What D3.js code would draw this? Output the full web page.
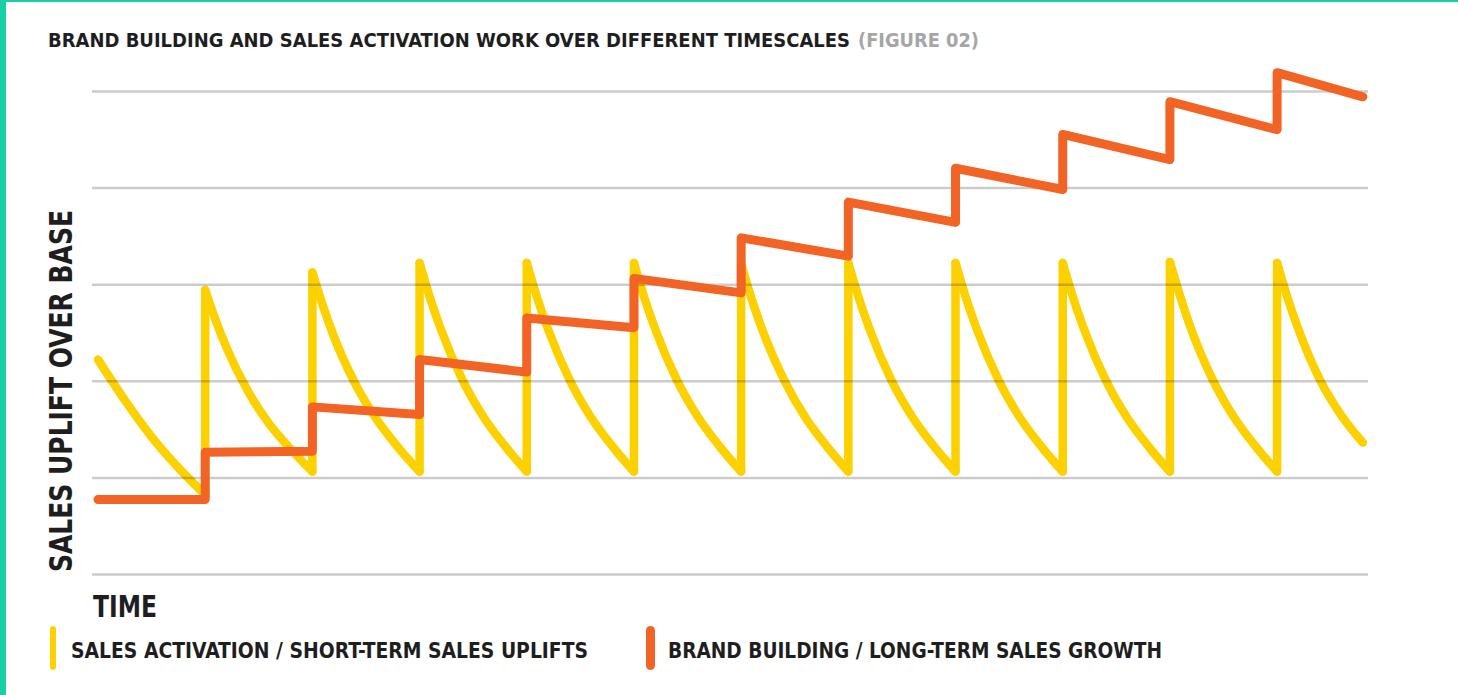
<!DOCTYPE html>
<html>
<head>
<meta charset="utf-8">
<script src="https://cdn.jsdelivr.net/npm/d3@7"></script>
<style>
body { margin: 0; background: #fff; }
svg { display: block; }
text { font-family: "DejaVu Sans Condensed", "DejaVu Sans", sans-serif; font-weight: bold; font-stretch: condensed; }
</style>
</head>
<body>
<svg id="chart"></svg>
<script>
// chart values (time in campaign cycles, value in gridline steps)
var gridTicks = [0, 1, 2, 3, 4, 5];

// short-term sales uplift: repeated time = vertical jump at a new burst
var activationTime = [
  0, 0.25, 0.5, 0.75, 1,
  1, 1.1, 1.2, 1.4, 1.6, 1.8, 2,
  2, 2.1, 2.2, 2.4, 2.6, 2.8, 3,
  3, 3.1, 3.2, 3.4, 3.6, 3.8, 4,
  4, 4.1, 4.2, 4.4, 4.6, 4.8, 5,
  5, 5.1, 5.2, 5.4, 5.6, 5.8, 6,
  6, 6.1, 6.2, 6.4, 6.6, 6.8, 7,
  7, 7.1, 7.2, 7.4, 7.6, 7.8, 8,
  8, 8.1, 8.2, 8.4, 8.6, 8.8, 9,
  9, 9.1, 9.2, 9.4, 9.6, 9.8, 10,
  10, 10.1, 10.2, 10.4, 10.6, 10.8, 11,
  11, 11.1, 11.2, 11.4, 11.6, 11.8
];
var activationValue = [
  2.22, 1.80, 1.42, 1.10, 0.82,
  2.94, 2.62, 2.34, 1.89, 1.55, 1.29, 1.06,
  3.12, 2.77, 2.46, 1.97, 1.60, 1.31, 1.06,
  3.22, 2.85, 2.53, 2.01, 1.62, 1.32, 1.06,
  3.22, 2.85, 2.53, 2.01, 1.62, 1.32, 1.06,
  3.22, 2.85, 2.53, 2.01, 1.62, 1.32, 1.06,
  3.21, 2.84, 2.52, 2.01, 1.62, 1.32, 1.06,
  3.22, 2.85, 2.53, 2.01, 1.62, 1.32, 1.06,
  3.22, 2.85, 2.53, 2.01, 1.62, 1.32, 1.06,
  3.22, 2.85, 2.53, 2.01, 1.62, 1.32, 1.06,
  3.23, 2.86, 2.53, 2.01, 1.62, 1.32, 1.06,
  3.22, 2.85, 2.53, 2.01, 1.64, 1.36
];

// long-term brand growth: one segment per cycle, value at its start and at its end
var brandStart = [0.77, 1.26, 1.73, 2.22, 2.65, 3.06, 3.48, 3.85, 4.20, 4.55, 4.89, 5.19];
var brandEnd   = [0.77, 1.27, 1.65, 2.09, 2.55, 2.91, 3.29, 3.64, 3.98, 4.29, 4.60, 4.94];
var lastTime = 11.8;

var titleText = "BRAND BUILDING AND SALES ACTIVATION WORK OVER DIFFERENT TIMESCALES";
var figureText = "(FIGURE 02)";
var yLabel = "SALES UPLIFT OVER BASE";
var xLabel = "TIME";
var legendLabels = ["SALES ACTIVATION / SHORT-TERM SALES UPLIFTS", "BRAND BUILDING / LONG-TERM SALES GROWTH"];

var colors = {
  yellow: "#fdd000",
  orange: "#f26425",
  teal: "#19cfa6",
  ink: "#1e1e1e",
  faint: "#a6a6a6"
};

var width = 1458, height = 695;
var plotLeft = 92, plotRight = 1368, plotTop = 91, plotBottom = 574;

var svg = d3.select("#chart").attr("width", width).attr("height", height);
svg.append("rect").attr("width", width).attr("height", height).attr("fill", "#fff");

// teal frame on the left and top
svg.append("rect").attr("x", 0).attr("y", 0).attr("width", 6).attr("height", height).attr("fill", colors.teal);
svg.append("rect").attr("x", 0).attr("y", 0).attr("width", width).attr("height", 2).attr("fill", colors.teal);

var x = d3.scaleLinear().domain([0, 11.82]).range([98, 1365]);
var y = d3.scaleLinear().domain([0, 5]).range([plotBottom, plotTop]);

var smooth = d3.line().x(function(d){return x(d[0]);}).y(function(d){return y(d[1]);}).curve(d3.curveMonotoneX);
var straight = d3.line().x(function(d){return x(d[0]);}).y(function(d){return y(d[1]);});

// split the yellow series into decays and jumps
var pts = activationTime.map(function(t, i){return [t, activationValue[i]];});
var runs = [], jumps = [], cur = [pts[0]];
for (var i = 1; i < pts.length; i++) {
  if (pts[i][0] === pts[i-1][0]) {
    jumps.push([pts[i-1], pts[i]]);
    runs.push(cur);
    cur = [pts[i]];
  } else {
    cur.push(pts[i]);
  }
}
runs.push(cur);

var yellowG = svg.append("g")
  .attr("fill", "none")
  .attr("stroke", colors.yellow)
  .attr("stroke-width", 8.5)
  .attr("stroke-linecap", "round")
  .attr("stroke-linejoin", "round");
yellowG.selectAll("path.decay").data(runs).enter().append("path").attr("class", "decay").attr("d", smooth);
yellowG.selectAll("path.jump").data(jumps).enter().append("path").attr("class", "jump").attr("d", straight);

// gridlines drawn over the yellow, under the orange
var grid = svg.append("g")
  .attr("transform", "translate(" + plotLeft + ",0)")
  .call(d3.axisLeft(y).tickValues(gridTicks).tickSize(-(plotRight - plotLeft)).tickFormat(""));
grid.select(".domain").remove();
grid.selectAll("line").attr("stroke", "rgba(0,0,0,0.2)").attr("stroke-width", 2.5);

// orange step line
var brandPts = [];
brandStart.forEach(function(v, k){
  brandPts.push([k, v]);
  brandPts.push([k === brandStart.length - 1 ? lastTime : k + 1, brandEnd[k]]);
});
svg.append("path")
  .datum(brandPts)
  .attr("d", straight)
  .attr("fill", "none")
  .attr("stroke", colors.orange)
  .attr("stroke-width", 9)
  .attr("stroke-linecap", "round")
  .attr("stroke-linejoin", "round");

// title
svg.append("text").attr("x", 48).attr("y", 47).attr("font-size", 19).attr("fill", colors.ink)
  .attr("textLength", 802).attr("lengthAdjust", "spacingAndGlyphs").text(titleText);
svg.append("text").attr("x", 858).attr("y", 47).attr("font-size", 19).attr("fill", colors.faint)
  .attr("textLength", 121).attr("lengthAdjust", "spacingAndGlyphs").text(figureText);

// axis titles
svg.append("text").attr("transform", "translate(72,572) rotate(-90)").attr("font-size", 32).attr("fill", colors.ink)
  .attr("textLength", 362).attr("lengthAdjust", "spacingAndGlyphs").text(yLabel);
svg.append("text").attr("x", 93).attr("y", 617).attr("font-size", 30).attr("fill", colors.ink)
  .attr("textLength", 64).attr("lengthAdjust", "spacingAndGlyphs").text(xLabel);

// legend
var legendX = [50, 646], legendTextX = [71, 668], legendLen = [517, 494], legendW = [6, 9];
var legendColors = [colors.yellow, colors.orange];
legendLabels.forEach(function(lbl, k){
  svg.append("rect").attr("x", legendX[k]).attr("y", 626).attr("width", legendW[k]).attr("height", 44)
    .attr("rx", legendW[k] / 2).attr("fill", legendColors[k]);
  svg.append("text").attr("x", legendTextX[k]).attr("y", 658).attr("font-size", 22).attr("fill", colors.ink)
    .attr("textLength", legendLen[k]).attr("lengthAdjust", "spacingAndGlyphs").text(lbl);
});
</script>
</body>
</html>
